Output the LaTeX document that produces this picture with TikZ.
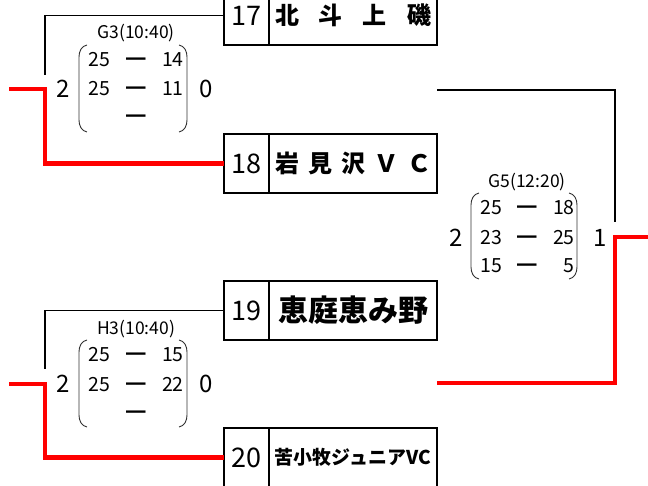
\documentclass[tikz,border=0pt]{standalone}
\usepackage{fontspec}
\setmainfont{Noto Sans CJK JP}
\usetikzlibrary{positioning}
\begin{document}
\begin{tikzpicture}[x=1pt, y=-1pt,
  numbox/.style={draw, line width=1.7pt, outer sep=0pt, inner sep=0pt, minimum width=45pt, minimum height=59pt, font=\fontsize{27}{27}\selectfont},
  namebox/.style={draw, line width=1.7pt, outer sep=0pt, inner sep=0pt, minimum width=168pt, minimum height=59pt, font=\bfseries\fontsize{24}{24}\selectfont},
  lose/.style={line width=1.3pt},
  win/.style={line width=4.5pt, red},
  brk/.style={line width=0.9pt, black!80},
  game/.style={inner sep=0pt, font=\fontsize{17.5}{17.5}\selectfont},
  score/.style={inner sep=0pt, anchor=base, font=\fontsize{19.5}{19.5}\selectfont},
  bar/.style={inner sep=0pt, anchor=base, font=\fontsize{19.5}{19.5}\selectfont},
  sets/.style={inner sep=0pt, font=\fontsize{24}{24}\selectfont}]
\clip (0,0) rectangle (648,486);
\node[numbox] (n17) at (246.5,15.5) {17};
\node[namebox, right=0pt of n17] (t17) {\makebox[156pt]{北\hfill 斗\hfill 上\hfill 磯}};
\node[numbox] (n18) at (246.5,163.5) {18};
\node[namebox, right=0pt of n18] (t18) {\makebox[156pt]{岩\hfill 見\hfill 沢\hfill Ｖ\hfill Ｃ}};
\node[numbox] (n19) at (246.5,310.5) {19};
\node[namebox, right=0pt of n19] (t19) {\fontsize{30}{30}\selectfont 恵庭恵み野};
\node[numbox] (n20) at (246.5,457.5) {20};
\node[namebox, right=0pt of n20] (t20) {\fontsize{19}{19}\selectfont 苦小牧ジュニアVC};
\coordinate (g3top) at (45,75);
\coordinate (g3in) at (9,89);
\coordinate (g3knee) at (45,89);
\coordinate (h3top) at (45,369);
\coordinate (h3in) at (9,384);
\coordinate (h3knee) at (45,384);
\coordinate (r1) at (437,90);
\coordinate (g5top) at (615,222);
\coordinate (r2) at (437,383);
\coordinate (g5knee) at (615,237);
\coordinate (g5out) at (648,237);
\draw[lose] (n17.west) -| (g3top);
\draw[win] (g3in) -- (g3knee) |- (n18.west);
\draw[lose] (n19.west) -| (h3top);
\draw[win] (h3in) -- (h3knee) |- (n20.west);
\draw[lose] (r1) -| (g5top);
\draw[win] (r2) -| (g5knee) -- (g5out);
\node[game] (g3) at (136,33) {G3(10:40)};
\node[sets] (g3a) at (63,89) {2};
\node[sets] (g3b) at (206,89) {0};
\node[score] (g3l1) at (99,67) {25};
\node[bar] (g3d1) at (136,67) {━};
\node[score, anchor=base east] (g3r1) at (184,67) {14};
\node[score] (g3l2) at (99,96) {25};
\node[bar] (g3d2) at (136,96) {━};
\node[score, anchor=base east] (g3r2) at (184,96) {11};
\node[bar] (g3d3) at (136,124) {━};
\draw[brk] (87,45) to[out=190,in=90] (79,57) -- (79,120) to[out=-90,in=170] (87,132);
\draw[brk] (179,45) to[out=-10,in=90] (187,57) -- (187,120) to[out=-90,in=10] (179,132);
\node[game] (h3) at (136,329) {H3(10:40)};
\node[sets] (h3a) at (63,384) {2};
\node[sets] (h3b) at (206,384) {0};
\node[score] (h3l1) at (99,361) {25};
\node[bar] (h3d1) at (136,361) {━};
\node[score, anchor=base east] (h3r1) at (184,361) {15};
\node[score] (h3l2) at (99,391) {25};
\node[bar] (h3d2) at (136,391) {━};
\node[score, anchor=base east] (h3r2) at (184,391) {22};
\node[bar] (h3d3) at (136,419) {━};
\draw[brk] (87,340) to[out=190,in=90] (79,352) -- (79,415) to[out=-90,in=170] (87,427);
\draw[brk] (179,340) to[out=-10,in=90] (187,352) -- (187,415) to[out=-90,in=10] (179,427);
\node[game] (g5) at (527,182) {G5(12:20)};
\node[sets] (g5a) at (456,238) {2};
\node[sets] (g5b) at (600,238) {1};
\node[score] (g5l1) at (491,215) {25};
\node[bar] (g5d1) at (527,215) {━};
\node[score, anchor=base east] (g5r1) at (575,215) {18};
\node[score] (g5l2) at (491,245) {23};
\node[bar] (g5d2) at (527,245) {━};
\node[score, anchor=base east] (g5r2) at (575,245) {25};
\node[score] (g5l3) at (491,273) {15};
\node[bar] (g5d3) at (527,273) {━};
\node[score, anchor=base east] (g5r3) at (575,273) {5};
\draw[brk] (479,193) to[out=190,in=90] (471,205) -- (471,267) to[out=-90,in=170] (479,279);
\draw[brk] (569,193) to[out=-10,in=90] (577,205) -- (577,267) to[out=-90,in=10] (569,279);
\end{tikzpicture}
\end{document}
